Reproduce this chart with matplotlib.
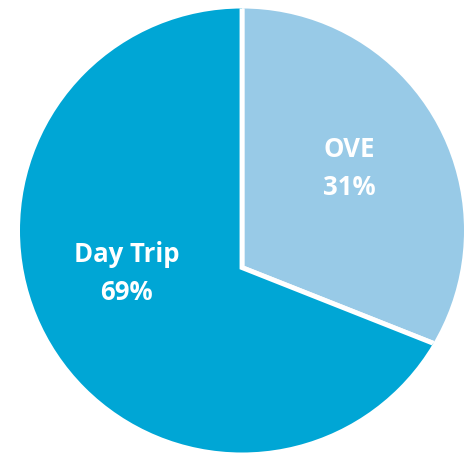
import matplotlib.pyplot as plt
from matplotlib.patches import Circle

categories = ['OVE', 'Day Trip']
shares = [31, 69]
colors = ['#98CAE7', '#00A6D5']

# where the labels sit (data units, circle radius = 1)
label_pos = [(0.482, 0.284), (-0.52, -0.19)]

fig = plt.figure(figsize=(4.65, 4.6), dpi=100)
ax = fig.add_axes([0, 0, 1, 1])

# wedges fan out from a point a bit below the circle's centre, then get clipped to the circle
vertex = (0, -0.167)
wedges, _ = ax.pie(shares, colors=colors, startangle=90, counterclock=False,
                   center=vertex, radius=1.3,
                   wedgeprops=dict(edgecolor='white', linewidth=3.5))
clip = Circle((0, 0), 1.0, facecolor='none', edgecolor='none')
ax.add_patch(clip)
for w in wedges:
    w.set_clip_on(True)  # pie turns clipping off by default
    w.set_clip_path(clip)

for name, val, (x, y) in zip(categories, shares, label_pos):
    ax.text(x, y, f'{name}\n{val}%', ha='center', va='center', color='white',
            fontsize=18.5, fontweight='bold', family='Open Sans', linespacing=1.52)

ax.set_xlim(-242 / 222, 223 / 222)
ax.set_ylim(-228.5 / 222, 231.5 / 222)
ax.set_aspect('equal')
ax.axis('off')

fig.savefig('out.png', dpi=100)
